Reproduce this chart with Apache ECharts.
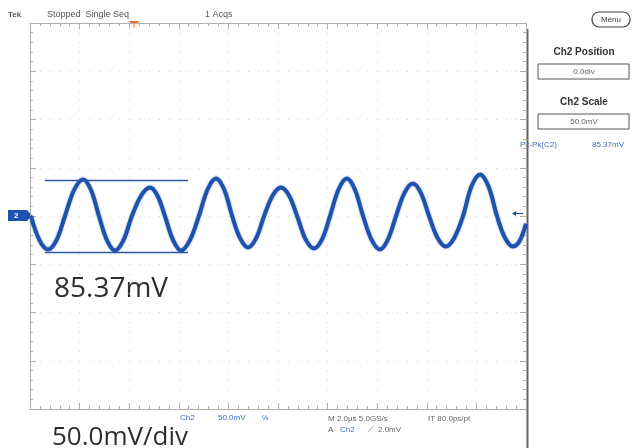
<!DOCTYPE html>
<html>
<head>
<meta charset="utf-8">
<script src="https://cdn.jsdelivr.net/npm/echarts@6/dist/echarts.min.js"></script>
<style>
html,body{margin:0;padding:0;background:#fff;}
#chart{width:634px;height:448px;}
</style>
</head>
<body>
<div id="chart"></div>
<script>
// Time (µs) and Ch2 voltage (mV)
const timeUs = [-9.96, -9.62, -9.27, -8.93, -8.59, -8.22, -7.86, -7.54, -7.22, -6.90, -6.57, -6.23, -5.89, -5.52, -5.16, -4.86, -4.56, -4.23, -3.91, -3.55, -3.19, -2.84, -2.50, -2.17, -1.85, -1.53, -1.21, -0.88, -0.56, -0.22, 0.12, 0.45, 0.77, 1.11, 1.45, 1.78, 2.10, 2.44, 2.78, 3.10, 3.43, 3.77, 4.11, 4.43, 4.76, 5.10, 5.44, 5.76, 6.09, 6.43, 6.77, 7.11, 7.46, 7.80, 8.15, 8.49, 8.83, 9.15, 9.48, 9.74, 10.0];
const ch2mV  = [0, -25, -34.7, -25, 0, 27, 37.8, 27, 0, -25, -35.8, -25, 0, 21, 29.5, 21, 0, -25, -35.8, -25, 0, 27.5, 38.9, 27.5, 0, -23, -32.6, -23, 0, 21, 29.5, 21, 0, -24, -33.7, -24, 0, 27.5, 38.9, 27.5, 0, -24.5, -34.7, -24.5, 0, 24, 33.7, 24, 0, -22.5, -31.6, -22.5, 0, 30.5, 43.0, 30.5, 0, -22.5, -31.6, -26, -8];
// Pk-Pk cursor lines
const cursorT = [-9.40, -3.63];
const cursorHigh = 36.8;
const cursorLow = -37.8;
// Axis ranges: 10 horizontal divisions of 2.0 µs, 8 vertical divisions of 50 mV
const xRange = [-10, 10, 2];
const yRange = [-200, 200, 50];

const gridColor = '#d6d6d0';
const borderColor = '#b0b0a8';
const blue = '#1f52ae';
const textGray = '#555';

const chart = echarts.init(document.getElementById('chart'), null, {renderer: 'canvas'});

function xAxisCfg(pos, split) {
  return {
    type: 'value', position: pos, min: xRange[0], max: xRange[1], interval: xRange[2],
    axisLabel: {show: false},
    axisLine: {show: true, onZero: false, lineStyle: {color: borderColor, width: 1}},
    axisTick: {show: true, inside: true, length: 6, lineStyle: {color: borderColor}},
    minorTick: {show: true, splitNumber: 5, length: 3, lineStyle: {color: borderColor}},
    splitLine: {show: split, lineStyle: {color: gridColor, type: [1, 8.65], width: 1}}
  };
}
function yAxisCfg(pos, split) {
  return {
    type: 'value', position: pos, min: yRange[0], max: yRange[1], interval: yRange[2],
    axisLabel: {show: false},
    axisLine: {show: true, onZero: false, lineStyle: {color: borderColor, width: 1}},
    axisTick: {show: true, inside: true, length: 6, lineStyle: {color: borderColor}},
    minorTick: {show: true, splitNumber: 5, length: 3, lineStyle: {color: borderColor}},
    splitLine: {show: split, lineStyle: {color: gridColor, type: [1, 8.92], width: 1}}
  };
}

const waveData = timeUs.map((t, i) => [t, ch2mV[i]]);

const txt = (x, y, s, opt) => ({
  type: 'text', x: x, y: y, silent: true,
  style: Object.assign({text: s, fill: textGray, font: '9px "Liberation Sans", Arial, sans-serif', textVerticalAlign: 'middle'}, opt || {})
});

const option = {
  animation: false,
  backgroundColor: '#fff',
  grid: {left: 30, top: 23, width: 496, height: 386, containLabel: false},
  xAxis: [xAxisCfg('bottom', true), xAxisCfg('top', false)],
  yAxis: [yAxisCfg('left', true), yAxisCfg('right', false)],
  series: [
    {
      type: 'line', data: waveData, smooth: 0.35, symbol: 'none',
      lineStyle: {color: blue, width: 4, shadowBlur: 2, shadowColor: 'rgba(31,82,174,0.6)'},
      z: 3
    },
    {
      type: 'line', data: [[cursorT[0], cursorHigh], [cursorT[1], cursorHigh]], symbol: 'none',
      lineStyle: {color: '#2a5aa8', width: 1.5}, z: 4
    },
    {
      type: 'line', data: [[cursorT[0], cursorLow], [cursorT[1], cursorLow]], symbol: 'none',
      lineStyle: {color: '#2a5aa8', width: 1.5}, z: 4
    }
  ],
  graphic: [
    // top status line
    txt(8, 15, 'Tek', {font: 'bold 8px "Liberation Sans", Arial, sans-serif'}),
    txt(47, 15, 'Stopped  Single Seq', {font: '9px "Liberation Sans", Arial, sans-serif'}),
    txt(205, 15, '1 Acqs', {font: '9px "Liberation Sans", Arial, sans-serif'}),
    // trigger position marker (orange)
    {type: 'polygon', silent: true, shape: {points: [[128, 21], [140, 21], [136, 24], [134.5, 24], [134.5, 28], [133.5, 28], [133.5, 24], [132, 24]]}, style: {fill: '#e8792c'}},
    // Ch2 ground marker
    {type: 'polygon', silent: true, shape: {points: [[8, 210], [27, 210], [32, 215.5], [27, 221], [8, 221]]}, style: {fill: '#1e52b0'}},
    txt(14, 215.5, '2', {fill: '#fff', font: 'bold 8px "Liberation Sans", Arial, sans-serif'}),
    // trigger level marker
    {type: 'line', silent: true, shape: {x1: 514, y1: 213.5, x2: 523, y2: 213.5}, style: {stroke: '#2a4f90', lineWidth: 1.2}},
    {type: 'polygon', silent: true, shape: {points: [[512, 213.5], [516, 211], [516, 216]]}, style: {fill: '#2a4f90'}},
    // right separator
    {type: 'line', silent: true, shape: {x1: 527.5, y1: 29, x2: 527.5, y2: 448}, style: {stroke: '#666', lineWidth: 2}},
    // side menu
    {type: 'rect', silent: true, shape: {x: 592, y: 12, width: 38, height: 15, r: 7}, style: {fill: '#fff', stroke: '#444', lineWidth: 1.2}},
    txt(611, 19.5, 'Menu', {textAlign: 'center', font: '8px "Liberation Sans", Arial, sans-serif', fill: '#444'}),
    txt(584, 52, 'Ch2 Position', {textAlign: 'center', font: 'bold 10px "Liberation Sans", Arial, sans-serif', fill: '#333'}),
    {type: 'rect', silent: true, shape: {x: 538, y: 64, width: 91, height: 15}, style: {fill: '#fff', stroke: '#555', lineWidth: 1}},
    txt(584, 71.5, '0.0div', {textAlign: 'center', font: '8px "Liberation Sans", Arial, sans-serif', fill: '#666'}),
    txt(584, 102, 'Ch2 Scale', {textAlign: 'center', font: 'bold 10px "Liberation Sans", Arial, sans-serif', fill: '#333'}),
    {type: 'rect', silent: true, shape: {x: 538, y: 114, width: 91, height: 15}, style: {fill: '#fff', stroke: '#555', lineWidth: 1}},
    txt(584, 121.5, '50.0mV', {textAlign: 'center', font: '8px "Liberation Sans", Arial, sans-serif', fill: '#666'}),
    txt(520, 145, 'Pk-Pk(C2)', {font: '8px "Liberation Sans", Arial, sans-serif', fill: '#3a6cc4'}),
    txt(592, 145, '85.37mV', {font: '8px "Liberation Sans", Arial, sans-serif', fill: '#3a6cc4'}),
    // bottom readouts
    txt(180, 418, 'Ch2', {font: '8px "Liberation Sans", Arial, sans-serif', fill: '#3a6cc4'}),
    txt(218, 418, '50.0mV', {font: '8px "Liberation Sans", Arial, sans-serif', fill: '#3a6cc4'}),
    txt(262, 418, '℅', {font: '7px "Liberation Sans", Arial, sans-serif', fill: '#3a6cc4'}),
    txt(328, 419, 'M 2.0µs 5.0GS/s', {font: '8px "Liberation Sans", Arial, sans-serif', fill: '#666'}),
    txt(428, 419, 'IT 80.0ps/pt', {font: '8px "Liberation Sans", Arial, sans-serif', fill: '#666'}),
    txt(328, 430, 'A', {font: '8px "Liberation Sans", Arial, sans-serif', fill: '#666'}),
    txt(340, 430, 'Ch2', {font: '8px "Liberation Sans", Arial, sans-serif', fill: '#3a6cc4'}),
    txt(368, 430, '⟋', {font: '8px "DejaVu Sans", sans-serif', fill: '#666'}),
    txt(378, 430, '2.0mV', {font: '8px "Liberation Sans", Arial, sans-serif', fill: '#666'}),
    // annotations
    txt(54, 289, '85.37mV', {font: '28px "Open Sans", "Noto Sans", sans-serif', fill: '#2e2e2e'}),
    txt(52, 438, '50.0mV/div', {font: '26px "Open Sans", "Noto Sans", sans-serif', fill: '#2e2e2e'})
  ]
};
chart.setOption(option);
</script>
</body>
</html>
